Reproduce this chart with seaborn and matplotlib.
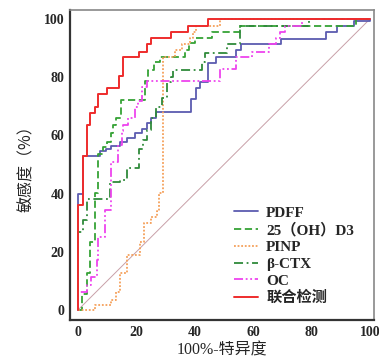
import matplotlib
matplotlib.use("Agg")
import matplotlib.pyplot as plt
import seaborn as sns
import pandas as pd

# ---- data (riser tops of each ROC step curve, in %) ----
series_names = ["PDFF", "25（OH）D3", "PINP", "β-CTX", "OC", "联合检测"]

pdff_fpr = [0, 0, 1.8, 7.5, 9.5, 11.5, 14.4, 16.9, 19.5, 21.8, 23.5, 25.2, 26.7, 38.9, 40.3, 41.8, 44.6, 47.3, 54.3, 56.0, 69.5, 84.8, 88.9, 94.5, 100]
pdff_tpr = [0, 40, 52.9, 54.5, 55.4, 56.4, 57.6, 59.0, 60.9, 62.2, 64.2, 65.9, 67.9, 72.4, 76.4, 78.5, 84.8, 87.1, 89.3, 91.5, 93.3, 95.4, 97.6, 99.4, 100]

d3_fpr = [0, 1.5, 3.2, 4.3, 5.8, 6.9, 8.7, 10.0, 11.3, 12.0, 13.0, 14.8, 22.9, 24.1, 26.0, 28.1, 36.6, 38.1, 40.0, 45.8, 55.5, 95.4, 100]
d3_tpr = [0, 5.7, 12.6, 23.5, 40.1, 53.5, 55.9, 57.9, 60.7, 63.6, 65.9, 72.2, 78.7, 82.5, 85.4, 87.1, 89.3, 91.6, 93.4, 95.4, 97.6, 100, 100]

pinp_fpr = [0, 5.8, 11.5, 13.2, 14.4, 16.7, 21.2, 22.5, 25.2, 27.0, 27.9, 29.2, 33.2, 35.5, 38.4, 39.5, 40.6, 48.6, 100]
pinp_tpr = [0, 1.7, 3.4, 6.3, 12.6, 18.9, 23.5, 29.8, 32.1, 33.9, 40.1, 87.1, 89.3, 91.3, 93.4, 95.6, 97.6, 100, 100]

ctx_fpr = [0, 0, 1.6, 3.2, 11.0, 14.4, 16.7, 21.0, 22.4, 23.8, 25.2, 26.9, 28.7, 30.4, 32.0, 32.6, 42.4, 43.5, 51.0, 55.5, 79.0, 100]
ctx_tpr = [0, 27, 31, 38, 44.1, 44.7, 48.7, 55.5, 58.4, 61.9, 65.9, 69.9, 72.7, 78.5, 80.2, 82.5, 85.4, 88.2, 91.4, 97.6, 100, 100]

oc_fpr = [0, 0, 3.0, 4.6, 6.4, 6.9, 9.2, 11.5, 13.8, 15.0, 15.5, 17.2, 19.5, 20.5, 21.8, 23.5, 48.6, 54.3, 59.5, 65.5, 68.0, 69.2, 70.9, 76.6, 100]
oc_tpr = [0, 6.3, 8.5, 11.4, 17.2, 25.2, 34.4, 51.0, 56.7, 61.4, 63.6, 65.9, 69.9, 72.0, 76.5, 78.7, 82.8, 86.8, 88.8, 91.3, 93.4, 95.4, 97.6, 100, 100]

comb_fpr = [0, 0, 1.6, 3.0, 4.3, 5.7, 7.0, 9.8, 14.0, 15.5, 21.0, 23.5, 25.2, 31.8, 37.8, 44.5, 100]
comb_tpr = [0, 36, 52.9, 63.6, 67.8, 69.9, 74.1, 76.4, 80.4, 87.1, 88.8, 91.3, 93.4, 95.6, 97.6, 100, 100]

diag = [0, 100]

x_ticks = [0, 20, 40, 60, 80, 100]
y_ticks = [0, 20, 40, 60, 80, 100]

# ---- styles ----
colors = ["#5c5cb0", "#36a236", "#f5a05a", "#2f8a3a", "#ee44ee", "#ee2c2c"]
styles = ["-", (0, (4, 2)), (0, (1, 1)), (0, (5, 2, 1, 2)), (0, (5, 1.5, 1, 1.5, 1, 1.5)), "-"]
widths = [1.3, 1.3, 1.3, 1.3, 1.3, 1.4]

sns.set_style("white")
plt.rcParams["font.family"] = ["Liberation Serif", "Noto Sans CJK SC"]

fig = plt.figure(figsize=(3.79, 3.59), dpi=100)
ax = fig.add_axes([70 / 379, 1 - 320 / 359, (374 - 70) / 379, (320 - 10) / 359])

sns.lineplot(x=diag, y=diag, ax=ax, color="#c8a0a8", linewidth=0.7,
             estimator=None, sort=False, label="_nolegend_")

fprs = [pdff_fpr, d3_fpr, pinp_fpr, ctx_fpr, oc_fpr, comb_fpr]
tprs = [pdff_tpr, d3_tpr, pinp_tpr, ctx_tpr, oc_tpr, comb_tpr]
for name, fx, ty, c, ls, lw in zip(series_names, fprs, tprs, colors, styles, widths):
    df = pd.DataFrame({"fpr": fx, "tpr": ty})
    sns.lineplot(data=df, x="fpr", y="tpr", ax=ax, color=c, linestyle=ls,
                 linewidth=lw, estimator=None, sort=False,
                 drawstyle="steps-post", label=name)

ax.set_xlim(-2.7, 101.4)
ax.set_ylim(-3.4, 103.1)
ax.set_xticks(x_ticks)
ax.set_yticks(y_ticks)
ax.tick_params(direction="in", length=5.5, width=1.2, color="#333333", pad=4,
               labelsize=10)
for lab in ax.get_xticklabels() + ax.get_yticklabels():
    lab.set_fontweight("bold")

for s in ["left", "bottom"]:
    ax.spines[s].set_color("#333333")
    ax.spines[s].set_linewidth(1.6)
for s in ["top", "right"]:
    ax.spines[s].set_color("#888888")
    ax.spines[s].set_linewidth(1.2)

ax.set_xlabel("100%-特异度", fontsize=11.5, labelpad=3,
              family=["Liberation Serif", "Noto Sans CJK SC"])
ax.set_ylabel("敏感度（%）", fontsize=11.5, labelpad=6,
              family=["Noto Sans CJK SC", "DejaVu Sans"])

leg = ax.legend(loc="upper left", bbox_to_anchor=(234 / 379, 1 - 206 / 359),
                bbox_transform=fig.transFigure, frameon=False,
                handlelength=1.55, handletextpad=0.55, labelspacing=0.2,
                borderpad=0, borderaxespad=0,
                prop={"family": ["Liberation Serif", "Noto Sans CJK SC"],
                      "weight": "bold", "size": 11})

fig.savefig("out.png", dpi=100)
